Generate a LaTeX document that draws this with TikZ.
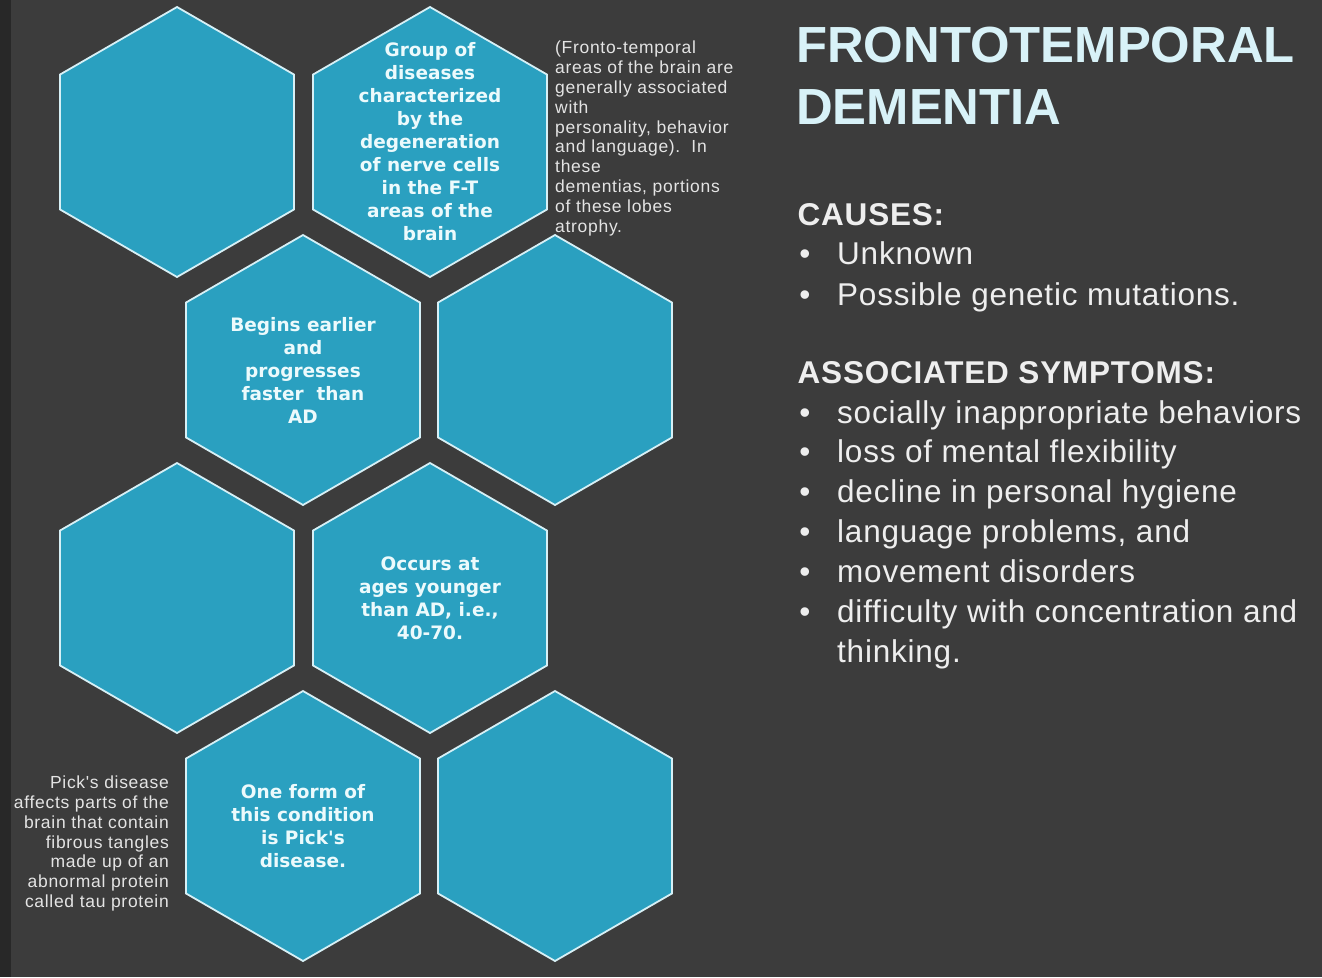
\documentclass[tikz,border=0pt]{standalone}
\usepackage{fontspec}
\setmainfont{Liberation Sans}
\newfontfamily\hexfont{DejaVu Sans}
\newfontfamily\bodyfont[LetterSpace=2.5]{Liberation Sans}
\newfontfamily\notefont[LetterSpace=4]{Liberation Sans}
\usetikzlibrary{shapes.geometric}
\definecolor{bgcol}{RGB}{60,60,60}
\definecolor{stripcol}{RGB}{40,40,40}
\definecolor{hexfill}{RGB}{42,160,192}
\definecolor{hexline}{RGB}{215,240,246}
\definecolor{hextxt}{RGB}{236,250,252}
\definecolor{titlecol}{RGB}{216,242,248}
\definecolor{bodycol}{RGB}{238,238,238}
\definecolor{notecol}{RGB}{228,228,228}
\begin{document}
\begin{tikzpicture}[x=1pt,y=-1pt,
  hexa/.style={regular polygon, regular polygon sides=6, shape border rotate=30,
    minimum size=270pt, inner sep=0pt, outer sep=0pt, draw=hexline, line width=1.8pt, fill=hexfill},
  hextext/.style={align=center, inner sep=0pt, text=hextxt,
    font=\hexfont\bfseries\fontsize{18.5}{23}\selectfont},
  notetext/.style={inner sep=0pt, text=notecol, font=\notefont\fontsize{17.5}{19.8}\selectfont},
  titletext/.style={align=left, inner sep=0pt, text=titlecol,
    font=\bfseries\fontsize{50.8}{62}\selectfont},
  headtext/.style={anchor=base west, inner sep=0pt, text=bodycol,
    font=\bodyfont\bfseries\fontsize{31.5}{40}\selectfont},
  itemtext/.style={anchor=base west, inner sep=0pt, text=bodycol,
    font=\bodyfont\fontsize{31.5}{40}\selectfont},
  bullettext/.style={anchor=base, inner sep=0pt, text=bodycol,
    font=\fontsize{31.5}{40}\selectfont}
]
\useasboundingbox (0,0) rectangle (1322,977);
\fill[bgcol] (0,0) rectangle (1322,977);
\fill[stripcol] (0,0) rectangle (11,977);

% hexagons
\node[hexa] (h1) at (177,142) {};
\node[hexa] (h2) at (430,142) {};
\node[hexa] (h3) at (303,370) {};
\node[hexa] (h4) at (555,370) {};
\node[hexa] (h5) at (177,598) {};
\node[hexa] (h6) at (430,598) {};
\node[hexa] (h7) at (303,826) {};
\node[hexa] (h8) at (555,826) {};

% hexagon texts
\node[hextext] (t2) at (h2.center) {Group of\\diseases\\characterized\\by the\\degeneration\\of nerve cells\\in the F-T\\areas of the\\brain};
\node[hextext] (t3) at (h3.center) {Begins earlier\\and\\progresses\\faster\ \ than\\AD};
\node[hextext] (t6) at (h6.center) {Occurs at\\ages younger\\than AD, i.e.,\\40-70.};
\node[hextext] (t7) at (h7.center) {One form of\\this condition\\is Pick's\\disease.};

% side notes
\node[notetext, align=left, anchor=west] (n1) at (555,138.5) {(Fronto-temporal\\areas of the brain are\\generally associated\\with\\personality, behavior\\and language).\ \ In\\these\\dementias, portions\\of these lobes\\atrophy.};
\node[notetext, align=right, anchor=east] (n2) at (169,843.5) {Pick's disease\\affects parts of the\\brain that contain\\fibrous tangles\\made up of an\\abnormal protein\\called tau protein};

% title
\node[titletext, anchor=west] (title) at (796,76) {FRONTOTEMPORAL\\DEMENTIA};

% causes
\node[headtext] (causes) at (797.5,225) {CAUSES:};
\node[bullettext] (b1) at (805,264) {•};
\node[itemtext] (c1) at (837,264) {Unknown};
\node[bullettext] (b2) at (805,305) {•};
\node[itemtext] (c2) at (837,305) {Possible genetic mutations.};

% symptoms
\node[headtext] (symp) at (797.5,383) {ASSOCIATED SYMPTOMS:};
\node[bullettext] (b3) at (805,423) {•};
\node[itemtext] (s1) at (837,423) {socially inappropriate behaviors};
\node[bullettext] (b4) at (805,462) {•};
\node[itemtext] (s2) at (837,462) {loss of mental flexibility};
\node[bullettext] (b5) at (805,502) {•};
\node[itemtext] (s3) at (837,502) {decline in personal hygiene};
\node[bullettext] (b6) at (805,542) {•};
\node[itemtext] (s4) at (837,542) {language problems, and};
\node[bullettext] (b7) at (805,582) {•};
\node[itemtext] (s5) at (837,582) {movement disorders};
\node[bullettext] (b8) at (805,622) {•};
\node[itemtext] (s6) at (837,622) {difficulty with concentration and};
\node[itemtext] (s7) at (837,662) {thinking.};
\end{tikzpicture}
\end{document}
